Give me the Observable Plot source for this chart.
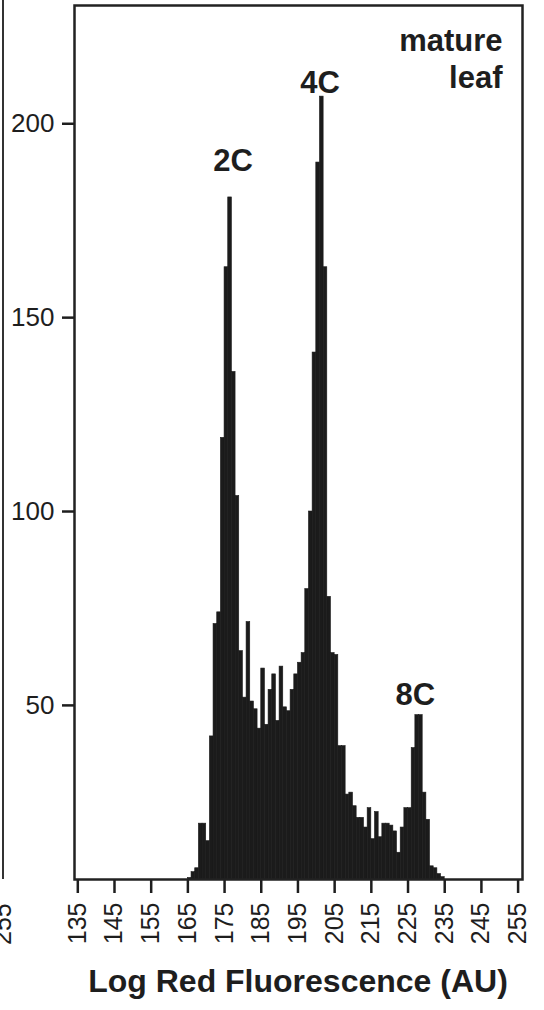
<!DOCTYPE html>
<html>
<head>
<meta charset="utf-8">
<script src="https://cdn.jsdelivr.net/npm/d3@7"></script>
<script src="https://cdn.jsdelivr.net/npm/@observablehq/plot@0.6"></script>
<style>
  body { margin: 0; background: #fff; }
  #wrap {
    position: relative; width: 544px; height: 1010px; overflow: hidden;
    font-family: "Liberation Sans", Arial, Helvetica, sans-serif; color: #1e1e1e;
  }
  #chart { position: absolute; left: 0; top: 0; z-index: 1; }
  /* edge of the neighbouring panel */
  #prev-edge { position: absolute; z-index: 2; left: 2px; top: 0; width: 0; height: 879px; border-left: 2.5px solid #333; }
  #prev-tick {
    position: absolute; z-index: 2; left: -10px; top: 945px; transform-origin: 0 0; transform: rotate(-90deg);
    font-size: 25px; line-height: 1; white-space: nowrap;
  }
  #xtitle {
    position: absolute; z-index: 2; left: 74px; width: 448px; top: 966px; text-align: center;
    font-size: 32px; font-weight: bold; line-height: 31px; white-space: nowrap;
  }
</style>
</head>
<body>
<div id="wrap">
  <div id="chart"></div>
  <div id="prev-edge"></div>
  <div id="prev-tick">255</div>
  <div id="xtitle">Log Red Fluorescence (AU)</div>
</div>
<script>
// Histogram channels (bin start) and event counts
const channel = [
  165, 166, 167, 168, 169, 170, 171, 172, 173, 174,
  175, 176, 177, 178, 179, 180, 181, 182, 183, 184,
  185, 186, 187, 188, 189, 190, 191, 192, 193, 194,
  195, 196, 197, 198, 199, 200, 201, 202, 203, 204,
  205, 206, 207, 208, 209, 210, 211, 212, 213, 214,
  215, 216, 217, 218, 219, 220, 221, 222, 223, 224,
  225, 226, 227, 228, 229, 230, 231, 232, 233, 234
];
const count = [
  5.5, 7, 8, 19.5, 19.5, 15, 42, 71, 74, 119,
  163, 181, 136, 104, 64, 52, 71.5, 51, 49, 44,
  59.5, 45, 54, 58, 46, 60, 49.5, 48.5, 54, 58,
  61, 63.5, 80, 100, 141, 190, 207, 163, 78, 63.5,
  63, 39.5, 39.5, 27, 27.5, 24, 21, 21, 18.5, 23.5,
  15.5, 22.5, 16, 19.5, 19.5, 19, 17.5, 12, 18.5, 23.5,
  23.5, 39, 47.5, 47.5, 27.5, 20.5, 8.5, 8, 6.5, 5.7
];

// Axis ticks
const xTicks = [135, 145, 155, 165, 175, 185, 195, 205, 215, 225, 235, 245, 255];
const yTicks = [50, 100, 150, 200];

// Ploidy peak labels (anchored in data units)
const peakLabel = ["2C", "4C", "8C"];
const peakX = [177.3, 201, 227];
const peakY = [190.4, 210.4, 52.7];

const panelLabel = "mature\nleaf";

const bins = channel.map((c, i) => ({x1: c, x2: c + 1, n: count[i]}));
const peaks = peakLabel.map((t, i) => ({t, x: peakX[i], y: peakY[i]}));

const font = '"Liberation Sans", Arial, Helvetica, sans-serif';

const chart = Plot.plot({
  width: 544,
  height: 955,
  marginLeft: 74,
  marginRight: 22,
  marginTop: 5,
  marginBottom: 76,
  style: {fontFamily: font, fontSize: "26px", color: "#1e1e1e", background: "#fff"},
  x: {domain: [134.1, 256.2]},
  y: {domain: [5.1, 230.5]},
  marks: [
    Plot.rect(bins, {x1: "x1", x2: "x2", y1: 0, y2: "n", fill: "#1b1b1b", stroke: "#1b1b1b", strokeWidth: 0.6, inset: 0, clip: true}),
    Plot.axisX({ticks: xTicks, tickSize: 14, tickPadding: 9, tickRotate: -90, strokeWidth: 2.5, fontSize: 25, label: null, tickFormat: d => String(d)}),
    Plot.axisY({ticks: yTicks, tickSize: 12, tickPadding: 8, strokeWidth: 2.5, fontSize: 26, label: null, tickFormat: d => String(d)}),
    Plot.frame({stroke: "#222", strokeWidth: 2.5}),
    Plot.text(peaks, {x: "x", y: "y", text: "t", fontSize: 31, fontWeight: "bold", lineAnchor: "middle", fill: "#1e1e1e"}),
    Plot.text([panelLabel], {frameAnchor: "top-right", dx: -20, dy: 19, textAnchor: "end", lineAnchor: "top", lineHeight: 1.2, fontSize: 31, fontWeight: "bold", fill: "#1e1e1e"})
  ]
});
document.getElementById("chart").appendChild(chart);
</script>
</body>
</html>
